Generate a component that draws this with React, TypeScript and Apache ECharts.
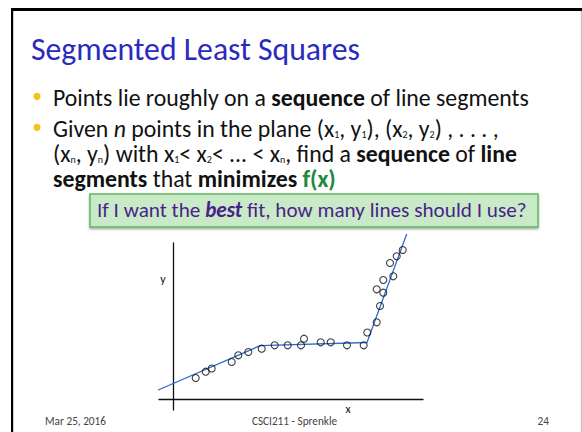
import React, { useEffect, useRef } from "react";
import * as echarts from "echarts";

// ---- data (plot units: 1 unit = 10 px of the original figure) ----
const pointX = [2.27, 3.27, 3.87, 5.87, 6.53, 7.53, 8.87, 10.17, 11.47, 12.8, 13.1, 14.77, 15.77, 17.4, 19.07, 19.43, 20.37, 20.7, 20.37, 21.03, 21.03, 22.03, 21.7, 22.37, 22.97];
const pointY = [2.1, 2.73, 3.05, 3.7, 4.37, 4.7, 5.03, 5.37, 5.37, 5.37, 6.03, 5.67, 5.67, 5.37, 5.37, 6.65, 7.67, 9.3, 10.97, 10.63, 11.9, 12.27, 13.6, 14.27, 14.9];
const fitX = [-1.7, 8.7, 19.4, 23.37];
const fitY = [0.8, 5.33, 5.65, 16.5];

// ---- text content ----
type Part = [string, string];
const titleText = "Segmented Least Squares";
const line1: Part[] = [["Points lie roughly on a ", "r"], ["sequence", "b"], [" of line segments", "r"]];
const line2: Part[] = [["Given ", "r"], ["n", "i"], [" points in the plane (x", "r"], ["1", "s"], [", y", "r"], ["1", "s"], ["), (x", "r"], ["2", "s"], [", y", "r"], ["2", "s"], [") , . . . ,", "r"]];
const line3: Part[] = [["(x", "r"], ["n", "s"], [", y", "r"], ["n", "s"], [") with x", "r"], ["1", "s"], ["< x", "r"], ["2", "s"], ["< ... < x", "r"], ["n", "s"], [", find a ", "r"], ["sequence", "b"], [" of ", "r"], ["line", "b"]];
const line4: Part[] = [["segments", "b"], [" that ", "r"], ["minimizes", "b"], [" ", "r"], ["f(x)", "g"]];
const boxParts: Part[] = [["If I want the ", "p"], ["best", "pb"], [" fit, how many lines should I use?", "p"]];
const footerLeft = "Mar 25, 2016";
const footerMid = "CSCI211 - Sprenkle";
const footerRight = "24";

const FAMILY = 'Carlito, Lato, "Open Sans", sans-serif';
const SUB = 0.42;

let ctx: CanvasRenderingContext2D | null = null;
function tw(text: string, size: number, weight = "normal", style = "normal") {
  if (!ctx) ctx = document.createElement("canvas").getContext("2d");
  ctx!.font = `${style} ${weight} ${size}px ${FAMILY}`;
  return ctx!.measureText(text).width;
}
function partStyle(k: string): [string, string, number] {
  if (k === "b" || k === "g") return ["bold", "normal", 1];
  if (k === "i") return ["normal", "italic", 1];
  if (k === "pb") return ["bold", "italic", 1];
  if (k === "s") return ["normal", "normal", SUB];
  return ["normal", "normal", 1];
}
function partsWidth(parts: Part[], size: number) {
  return parts.reduce((acc, [t, k]) => {
    const [w, s, f] = partStyle(k);
    return acc + tw(t, size * f, w, s);
  }, 0);
}
function fit(parts: Part[], target: number) {
  return (100 * target) / partsWidth(parts, 100);
}
function rich(parts: Part[]) {
  return parts.map(([t, k]) => `{${k}|${t}}`).join("");
}

export default function App() {
  const ref = useRef<HTMLDivElement>(null);
  useEffect(() => {
    if (!ref.current) return;
    const chart = echarts.init(ref.current, undefined, { renderer: "svg" });

    const titleSize = fit([[titleText, "r"]], 329);
    const body = fit(line1, 476);
    const boxSize = fit(boxParts, 430);
    const footSize = fit([[footerLeft, "r"]], 61);
    const LH = body * 0.94;
    const subSize = body * SUB;
    const subLH = LH - 2 * (body * 0.3);

    const bodyRich = {
      r: { fontSize: body, fontFamily: FAMILY, fill: "#111", lineHeight: LH },
      b: { fontSize: body, fontFamily: FAMILY, fill: "#111", fontWeight: "bold", lineHeight: LH },
      i: { fontSize: body, fontFamily: FAMILY, fill: "#111", fontStyle: "italic", lineHeight: LH },
      g: { fontSize: body, fontFamily: FAMILY, fill: "#1f8a3c", fontWeight: "bold", lineHeight: LH },
      s: { fontSize: subSize, fontFamily: FAMILY, fill: "#111", lineHeight: subLH, verticalAlign: "bottom" },
    };
    const bodyMid = (baseline: number) => baseline - body * 0.36;
    const bodyText = (parts: Part[], baseline: number) => ({
      type: "text",
      x: 53,
      y: bodyMid(baseline),
      style: { text: rich(parts), rich: bodyRich, align: "left", verticalAlign: "middle", fontSize: body, fontFamily: FAMILY, lineHeight: LH },
    });

    const boxRich = {
      p: { fontSize: boxSize, fontFamily: FAMILY, fill: "#4b1f8c", lineHeight: boxSize },
      pb: { fontSize: boxSize, fontFamily: FAMILY, fill: "#4b1f8c", fontWeight: "bold", fontStyle: "italic", lineHeight: boxSize },
    };

    const option: any = {
      animation: false,
      backgroundColor: "#ffffff",
      grid: { left: 159, top: 243, width: 264, height: 167, containLabel: false },
      xAxis: {
        type: "value",
        min: -1.4,
        max: 25.0,
        axisLine: { onZero: true, lineStyle: { color: "#111", width: 1.3 } },
        axisTick: { show: false },
        axisLabel: { show: false },
        splitLine: { show: false },
      },
      yAxis: {
        type: "value",
        min: -1.1,
        max: 15.6,
        axisLine: { onZero: true, lineStyle: { color: "#111", width: 1.3 } },
        axisTick: { show: false },
        axisLabel: { show: false },
        splitLine: { show: false },
      },
      series: [
        {
          type: "line",
          data: fitX.map((x, i) => [x, fitY[i]]),
          symbol: "none",
          clip: false,
          silent: true,
          lineStyle: { color: "#2f6bd0", width: 1.3 },
          z: 3,
        },
        {
          type: "scatter",
          data: pointX.map((x, i) => [x, pointY[i]]),
          symbol: "circle",
          symbolSize: 7,
          clip: false,
          itemStyle: { color: "rgba(255,255,255,0)", borderColor: "#111", borderWidth: 1.1 },
          z: 4,
        },
      ],
      graphic: [
        // slide frame
        { type: "rect", shape: { x: 11, y: 8, width: 571, height: 3 }, style: { fill: "#000" } },
        { type: "rect", shape: { x: 11, y: 8, width: 2.2, height: 424 }, style: { fill: "#000" } },
        { type: "rect", shape: { x: 580.8, y: 11, width: 1.2, height: 421 }, style: { fill: "#c4c4c4" } },
        // title
        {
          type: "text",
          x: 31,
          y: 61 - titleSize * 0.36,
          style: { text: titleText, fontSize: titleSize, fontFamily: FAMILY, fill: "#2a2abf", align: "left", verticalAlign: "middle" },
        },
        // bullets
        { type: "circle", shape: { cx: 37, cy: bodyMid(106) - 1, r: 3.6 }, style: { fill: "#f6c21a" } },
        { type: "circle", shape: { cx: 37, cy: bodyMid(137) - 1, r: 3.6 }, style: { fill: "#f6c21a" } },
        bodyText(line1, 106),
        bodyText(line2, 137),
        bodyText(line3, 162),
        bodyText(line4, 187),
        // callout box
        {
          type: "rect",
          shape: { x: 90, y: 194, width: 448, height: 33 },
          style: { fill: "#c9eac6", stroke: "#62b862", lineWidth: 1.5, shadowColor: "rgba(0,0,0,0.35)", shadowBlur: 2, shadowOffsetY: 1.5 },
        },
        {
          type: "text",
          x: 97,
          y: 218 - boxSize * 0.36,
          style: { text: rich(boxParts), rich: boxRich, align: "left", verticalAlign: "middle", fontSize: boxSize, fontFamily: FAMILY },
        },
        // axis names
        { type: "text", x: 348, y: 409, style: { text: "x", fontSize: 12, fontFamily: FAMILY, fill: "#111", align: "center", verticalAlign: "middle" } },
        { type: "text", x: 163, y: 279, style: { text: "y", fontSize: 12, fontFamily: FAMILY, fill: "#111", align: "center", verticalAlign: "middle" } },
        // footer
        { type: "text", x: 45, y: 425 - footSize * 0.36, style: { text: footerLeft, fontSize: footSize, fontFamily: FAMILY, fill: "#444", align: "left", verticalAlign: "middle" } },
        { type: "text", x: 294.5, y: 425 - footSize * 0.36, style: { text: footerMid, fontSize: footSize, fontFamily: FAMILY, fill: "#444", align: "center", verticalAlign: "middle" } },
        { type: "text", x: 549, y: 425 - footSize * 0.36, style: { text: footerRight, fontSize: footSize, fontFamily: FAMILY, fill: "#444", align: "right", verticalAlign: "middle" } },
      ],
    };
    chart.setOption(option);
    return () => chart.dispose();
  }, []);
  return <div ref={ref} style={{ position: "absolute", left: 0, top: 0, width: 582, height: 432 }} />;
}
